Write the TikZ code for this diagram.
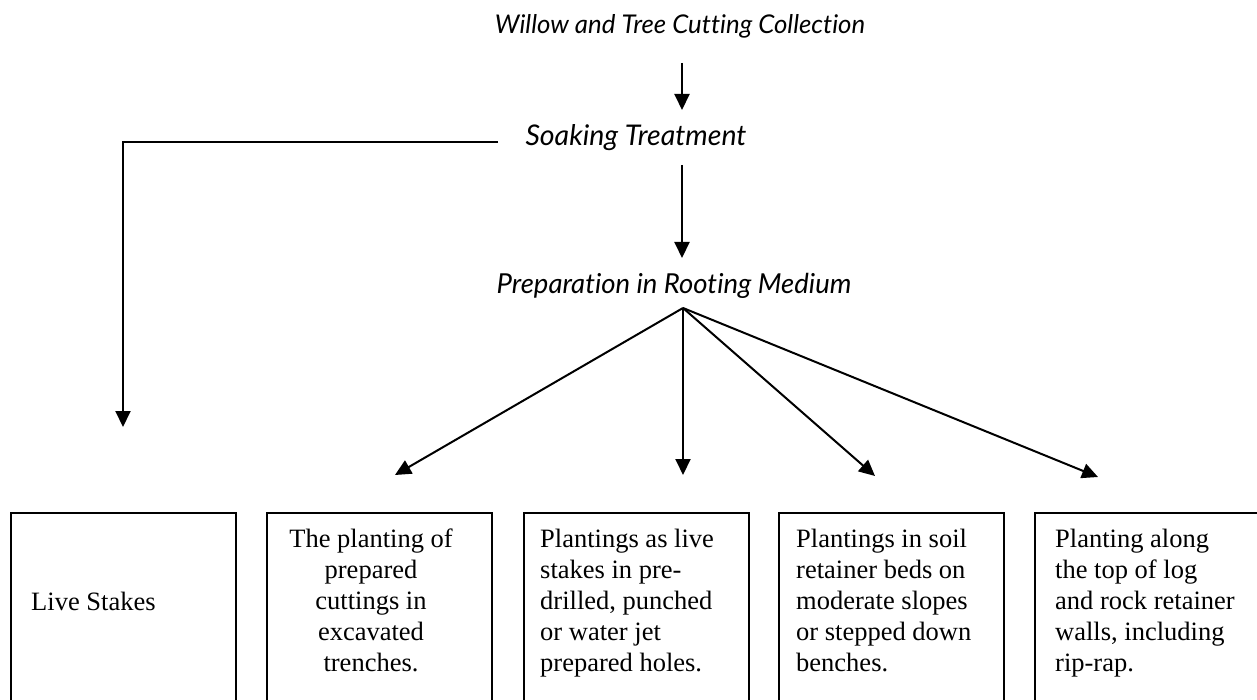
\documentclass[tikz,border=0pt]{standalone}
\usepackage{fontspec}
\setmainfont{Liberation Serif}
\newfontfamily\gillish[Ligatures=NoCommon]{Lato}
\usetikzlibrary{arrows.meta}
\begin{document}
\begin{tikzpicture}[x=1pt,y=-1pt,
  conn/.style={line width=2pt},
  arr/.style={line width=2pt,-{Triangle[length=16pt,width=15pt]}},
  head/.style={font=\gillish\itshape\fontsize{27}{32}\selectfont, inner sep=0pt, anchor=base},
  boxx/.style={draw,line width=1.6pt,minimum width=225pt,minimum height=220pt,anchor=north west,inner sep=0pt},
  btext/.style={font=\fontsize{26.5}{31}\selectfont, inner sep=0pt, anchor=north west, align=left}
]
\useasboundingbox (0,0) rectangle (1257,700);
\clip (0,0) rectangle (1257,700);

% headings
\node[head, font=\gillish\itshape\fontsize{25.8}{32}\selectfont] (title) at (680,34) {Willow and Tree Cutting Collection};
\node[head, font=\gillish\itshape\fontsize{28.5}{32}\selectfont] (soak) at (636,146) {Soaking Treatment};
\node[head, font=\gillish\itshape\fontsize{27.5}{32}\selectfont] (prep) at (674,294) {Preparation in Rooting Medium};

% boxes
\node[boxx] (b1) at (10,512) {};
\node[boxx] (b2) at (266,512) {};
\node[boxx] (b3) at (523,512) {};
\node[boxx] (b4) at (778,512) {};
\node[boxx] (b5) at (1034,512) {};

% box texts
\node[btext, anchor=base west] (t1) at (31,610) {Live Stakes};
\node[btext, anchor=north, align=center] (t2) at (371,525.3) {\strut The planting of\\prepared\\cuttings in\\excavated\\trenches.};
\node[btext] (t3) at (540,525.3) {\strut Plantings as live\\stakes in pre-\\drilled, punched\\or water jet\\prepared holes.};
\node[btext] (t4) at (796,525.3) {\strut Plantings in soil\\retainer beds on\\moderate slopes\\or stepped down\\benches.};
\node[btext] (t5) at (1055,525.3) {\strut Planting along\\the top of log\\and rock retainer\\walls, including\\rip-rap.};

% connector end points
\coordinate (c1s) at (682,63);
\coordinate (c1e) at (682,110);
\coordinate (c2s) at (682,165);
\coordinate (c2e) at (682,258);
\coordinate (ls) at (498,142);
\coordinate (lc) at (123,142);
\coordinate (le) at (123,427);
\coordinate (fan) at (683,308);
\coordinate (f2) at (395,475);
\coordinate (f3) at (683,475);
\coordinate (f4) at (875,476);
\coordinate (f5) at (1098,477);

\draw[arr] (c1s) -- (c1e);
\draw[arr] (c2s) -- (c2e);
\draw[arr] (ls) -- (lc) -- (le);
\draw[arr] (fan) -- (f2);
\draw[arr] (fan) -- (f3);
\draw[arr] (fan) -- (f4);
\draw[arr] (fan) -- (f5);
\end{tikzpicture}
\end{document}
